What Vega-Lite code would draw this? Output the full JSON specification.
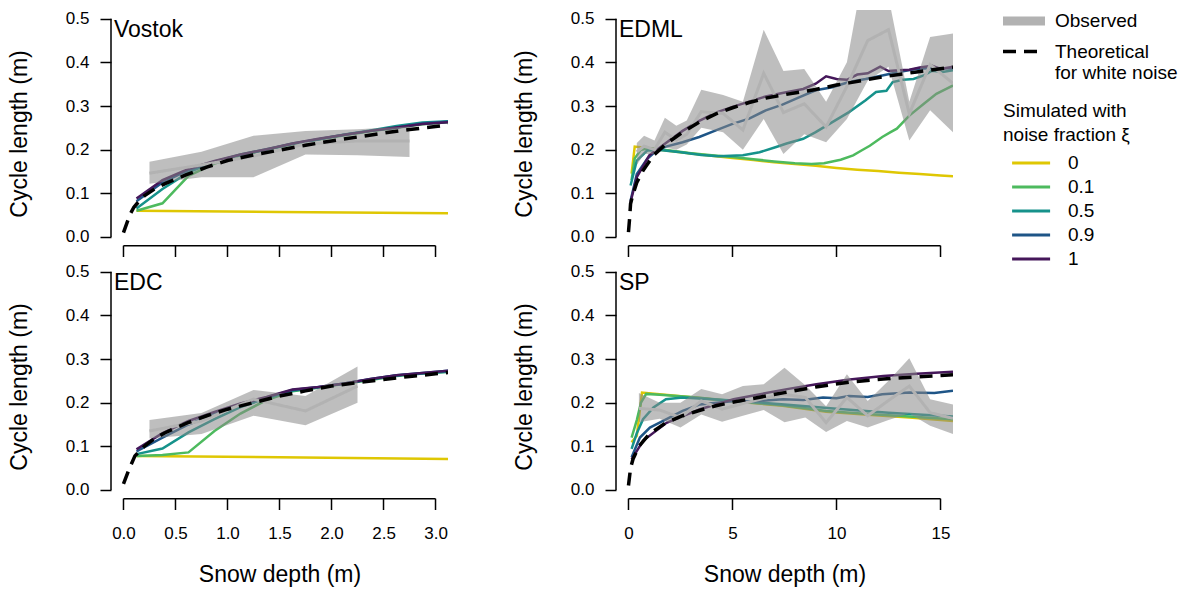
{
  "$schema": "https://vega.github.io/schema/vega-lite/v6.json",
  "background": "white",
  "padding": {"left": 8, "top": 6, "right": 4, "bottom": 4},
  "config": {
    "font": "Liberation Sans",
    "view": {"stroke": null},
    "axis": {"domain": false, "grid": false, "ticks": true, "tickSize": 11, "tickColor": "#000000", "tickWidth": 1.5, "labelColor": "black", "titleColor": "black", "labelFontSize": 17, "titleFontSize": 23, "titleFontWeight": "normal", "labelFlush": false, "labelOverlap": false, "labelFont": "Liberation Sans", "titleFont": "Liberation Sans"},
    "legend": {"padding": 0, "titleFontSize": 19, "titleFontWeight": "normal", "titleColor": "black", "labelFontSize": 19, "labelColor": "black", "labelLimit": 400, "titleLimit": 400, "titleLineHeight": 24, "labelFont": "Liberation Sans", "titleFont": "Liberation Sans"}
  },
  "datasets": {
    "ticks": [
      {"site":"Vostok","depth":0},{"site":"Vostok","depth":0.5},{"site":"Vostok","depth":1},{"site":"Vostok","depth":1.5},{"site":"Vostok","depth":2},{"site":"Vostok","depth":2.5},{"site":"Vostok","depth":3},
      {"site":"EDC","depth":0},{"site":"EDC","depth":0.5},{"site":"EDC","depth":1},{"site":"EDC","depth":1.5},{"site":"EDC","depth":2},{"site":"EDC","depth":2.5},{"site":"EDC","depth":3},
      {"site":"EDML","depth":0},{"site":"EDML","depth":5},{"site":"EDML","depth":10},{"site":"EDML","depth":15},
      {"site":"SP","depth":0},{"site":"SP","depth":5},{"site":"SP","depth":10},{"site":"SP","depth":15}
    ],
    "sim": [
      {"site":"Vostok","xi":"0","depth":0.125,"len":0.06},{"site":"Vostok","xi":"0","depth":1.5,"len":0.057},{"site":"Vostok","xi":"0","depth":3.125,"len":0.054},
      {"site":"Vostok","xi":"0.1","depth":0.125,"len":0.06},{"site":"Vostok","xi":"0.1","depth":0.375,"len":0.077},{"site":"Vostok","xi":"0.1","depth":0.625,"len":0.14},{"site":"Vostok","xi":"0.1","depth":0.875,"len":0.168},{"site":"Vostok","xi":"0.1","depth":1.125,"len":0.186},{"site":"Vostok","xi":"0.1","depth":1.375,"len":0.2},{"site":"Vostok","xi":"0.1","depth":1.625,"len":0.212},{"site":"Vostok","xi":"0.1","depth":1.875,"len":0.223},{"site":"Vostok","xi":"0.1","depth":2.125,"len":0.233},{"site":"Vostok","xi":"0.1","depth":2.375,"len":0.242},{"site":"Vostok","xi":"0.1","depth":2.625,"len":0.25},{"site":"Vostok","xi":"0.1","depth":2.875,"len":0.258},{"site":"Vostok","xi":"0.1","depth":3.125,"len":0.263},
      {"site":"Vostok","xi":"0.5","depth":0.125,"len":0.065},{"site":"Vostok","xi":"0.5","depth":0.375,"len":0.11},{"site":"Vostok","xi":"0.5","depth":0.625,"len":0.148},{"site":"Vostok","xi":"0.5","depth":0.875,"len":0.172},{"site":"Vostok","xi":"0.5","depth":1.125,"len":0.189},{"site":"Vostok","xi":"0.5","depth":1.375,"len":0.201},{"site":"Vostok","xi":"0.5","depth":1.625,"len":0.213},{"site":"Vostok","xi":"0.5","depth":1.875,"len":0.224},{"site":"Vostok","xi":"0.5","depth":2.125,"len":0.235},{"site":"Vostok","xi":"0.5","depth":2.375,"len":0.244},{"site":"Vostok","xi":"0.5","depth":2.625,"len":0.254},{"site":"Vostok","xi":"0.5","depth":2.875,"len":0.262},{"site":"Vostok","xi":"0.5","depth":3.125,"len":0.265},
      {"site":"Vostok","xi":"0.9","depth":0.125,"len":0.082},{"site":"Vostok","xi":"0.9","depth":0.375,"len":0.125},{"site":"Vostok","xi":"0.9","depth":0.625,"len":0.153},{"site":"Vostok","xi":"0.9","depth":0.875,"len":0.173},{"site":"Vostok","xi":"0.9","depth":1.125,"len":0.188},{"site":"Vostok","xi":"0.9","depth":1.375,"len":0.2},{"site":"Vostok","xi":"0.9","depth":1.625,"len":0.214},{"site":"Vostok","xi":"0.9","depth":1.875,"len":0.224},{"site":"Vostok","xi":"0.9","depth":2.125,"len":0.234},{"site":"Vostok","xi":"0.9","depth":2.375,"len":0.243},{"site":"Vostok","xi":"0.9","depth":2.625,"len":0.251},{"site":"Vostok","xi":"0.9","depth":2.875,"len":0.26},{"site":"Vostok","xi":"0.9","depth":3.125,"len":0.264},
      {"site":"Vostok","xi":"1","depth":0.125,"len":0.088},{"site":"Vostok","xi":"1","depth":0.375,"len":0.13},{"site":"Vostok","xi":"1","depth":0.625,"len":0.156},{"site":"Vostok","xi":"1","depth":0.875,"len":0.174},{"site":"Vostok","xi":"1","depth":1.125,"len":0.189},{"site":"Vostok","xi":"1","depth":1.375,"len":0.201},{"site":"Vostok","xi":"1","depth":1.625,"len":0.214},{"site":"Vostok","xi":"1","depth":1.875,"len":0.225},{"site":"Vostok","xi":"1","depth":2.125,"len":0.234},{"site":"Vostok","xi":"1","depth":2.375,"len":0.243},{"site":"Vostok","xi":"1","depth":2.625,"len":0.251},{"site":"Vostok","xi":"1","depth":2.875,"len":0.259},{"site":"Vostok","xi":"1","depth":3.125,"len":0.263},

      {"site":"EDC","xi":"0","depth":0.125,"len":0.078},{"site":"EDC","xi":"0","depth":1.5,"len":0.075},{"site":"EDC","xi":"0","depth":3.125,"len":0.071},
      {"site":"EDC","xi":"0.1","depth":0.125,"len":0.078},{"site":"EDC","xi":"0.1","depth":0.375,"len":0.08},{"site":"EDC","xi":"0.1","depth":0.625,"len":0.086},{"site":"EDC","xi":"0.1","depth":0.875,"len":0.135},{"site":"EDC","xi":"0.1","depth":1.125,"len":0.175},{"site":"EDC","xi":"0.1","depth":1.375,"len":0.206},{"site":"EDC","xi":"0.1","depth":1.625,"len":0.226},{"site":"EDC","xi":"0.1","depth":1.875,"len":0.234},{"site":"EDC","xi":"0.1","depth":2.125,"len":0.243},{"site":"EDC","xi":"0.1","depth":2.375,"len":0.252},{"site":"EDC","xi":"0.1","depth":2.625,"len":0.261},{"site":"EDC","xi":"0.1","depth":2.875,"len":0.267},{"site":"EDC","xi":"0.1","depth":3.125,"len":0.271},
      {"site":"EDC","xi":"0.5","depth":0.125,"len":0.082},{"site":"EDC","xi":"0.5","depth":0.375,"len":0.095},{"site":"EDC","xi":"0.5","depth":0.625,"len":0.132},{"site":"EDC","xi":"0.5","depth":0.875,"len":0.162},{"site":"EDC","xi":"0.5","depth":1.125,"len":0.19},{"site":"EDC","xi":"0.5","depth":1.375,"len":0.21},{"site":"EDC","xi":"0.5","depth":1.625,"len":0.227},{"site":"EDC","xi":"0.5","depth":1.875,"len":0.235},{"site":"EDC","xi":"0.5","depth":2.125,"len":0.244},{"site":"EDC","xi":"0.5","depth":2.375,"len":0.253},{"site":"EDC","xi":"0.5","depth":2.625,"len":0.262},{"site":"EDC","xi":"0.5","depth":2.875,"len":0.267},{"site":"EDC","xi":"0.5","depth":3.125,"len":0.271},
      {"site":"EDC","xi":"0.9","depth":0.125,"len":0.088},{"site":"EDC","xi":"0.9","depth":0.375,"len":0.12},{"site":"EDC","xi":"0.9","depth":0.625,"len":0.15},{"site":"EDC","xi":"0.9","depth":0.875,"len":0.174},{"site":"EDC","xi":"0.9","depth":1.125,"len":0.195},{"site":"EDC","xi":"0.9","depth":1.375,"len":0.212},{"site":"EDC","xi":"0.9","depth":1.625,"len":0.229},{"site":"EDC","xi":"0.9","depth":1.875,"len":0.236},{"site":"EDC","xi":"0.9","depth":2.125,"len":0.244},{"site":"EDC","xi":"0.9","depth":2.375,"len":0.254},{"site":"EDC","xi":"0.9","depth":2.625,"len":0.263},{"site":"EDC","xi":"0.9","depth":2.875,"len":0.268},{"site":"EDC","xi":"0.9","depth":3.125,"len":0.273},
      {"site":"EDC","xi":"1","depth":0.125,"len":0.093},{"site":"EDC","xi":"1","depth":0.375,"len":0.13},{"site":"EDC","xi":"1","depth":0.625,"len":0.158},{"site":"EDC","xi":"1","depth":0.875,"len":0.179},{"site":"EDC","xi":"1","depth":1.125,"len":0.198},{"site":"EDC","xi":"1","depth":1.375,"len":0.213},{"site":"EDC","xi":"1","depth":1.625,"len":0.23},{"site":"EDC","xi":"1","depth":1.875,"len":0.236},{"site":"EDC","xi":"1","depth":2.125,"len":0.244},{"site":"EDC","xi":"1","depth":2.375,"len":0.254},{"site":"EDC","xi":"1","depth":2.625,"len":0.263},{"site":"EDC","xi":"1","depth":2.875,"len":0.268},{"site":"EDC","xi":"1","depth":3.125,"len":0.273},

      {"site":"EDML","xi":"0","depth":0.15,"len":0.145},{"site":"EDML","xi":"0","depth":0.3,"len":0.207},{"site":"EDML","xi":"0","depth":1,"len":0.203},{"site":"EDML","xi":"0","depth":2,"len":0.197},{"site":"EDML","xi":"0","depth":3,"len":0.191},{"site":"EDML","xi":"0","depth":4,"len":0.186},{"site":"EDML","xi":"0","depth":5,"len":0.181},{"site":"EDML","xi":"0","depth":6,"len":0.176},{"site":"EDML","xi":"0","depth":7,"len":0.171},{"site":"EDML","xi":"0","depth":8,"len":0.167},{"site":"EDML","xi":"0","depth":9,"len":0.163},{"site":"EDML","xi":"0","depth":10,"len":0.158},{"site":"EDML","xi":"0","depth":11,"len":0.154},{"site":"EDML","xi":"0","depth":12,"len":0.151},{"site":"EDML","xi":"0","depth":13,"len":0.147},{"site":"EDML","xi":"0","depth":14,"len":0.144},{"site":"EDML","xi":"0","depth":15,"len":0.141},{"site":"EDML","xi":"0","depth":15.6,"len":0.139},
      {"site":"EDML","xi":"0.1","depth":0.15,"len":0.13},{"site":"EDML","xi":"0.1","depth":0.3,"len":0.18},{"site":"EDML","xi":"0.1","depth":0.6,"len":0.2},{"site":"EDML","xi":"0.1","depth":1,"len":0.203},{"site":"EDML","xi":"0.1","depth":2,"len":0.198},{"site":"EDML","xi":"0.1","depth":3,"len":0.192},{"site":"EDML","xi":"0.1","depth":4,"len":0.187},{"site":"EDML","xi":"0.1","depth":5,"len":0.183},{"site":"EDML","xi":"0.1","depth":6,"len":0.178},{"site":"EDML","xi":"0.1","depth":7,"len":0.173},{"site":"EDML","xi":"0.1","depth":8,"len":0.169},{"site":"EDML","xi":"0.1","depth":8.8,"len":0.167},{"site":"EDML","xi":"0.1","depth":9.4,"len":0.169},{"site":"EDML","xi":"0.1","depth":10.2,"len":0.177},{"site":"EDML","xi":"0.1","depth":10.8,"len":0.187},{"site":"EDML","xi":"0.1","depth":11.2,"len":0.198},{"site":"EDML","xi":"0.1","depth":11.6,"len":0.209},{"site":"EDML","xi":"0.1","depth":12.2,"len":0.229},{"site":"EDML","xi":"0.1","depth":12.6,"len":0.24},{"site":"EDML","xi":"0.1","depth":12.9,"len":0.248},{"site":"EDML","xi":"0.1","depth":13.5,"len":0.278},{"site":"EDML","xi":"0.1","depth":14.2,"len":0.305},{"site":"EDML","xi":"0.1","depth":14.8,"len":0.328},{"site":"EDML","xi":"0.1","depth":15.3,"len":0.34},{"site":"EDML","xi":"0.1","depth":15.6,"len":0.347},
      {"site":"EDML","xi":"0.5","depth":0.1,"len":0.118},{"site":"EDML","xi":"0.5","depth":0.4,"len":0.175},{"site":"EDML","xi":"0.5","depth":0.9,"len":0.198},{"site":"EDML","xi":"0.5","depth":1.5,"len":0.199},{"site":"EDML","xi":"0.5","depth":2.5,"len":0.194},{"site":"EDML","xi":"0.5","depth":3.5,"len":0.188},{"site":"EDML","xi":"0.5","depth":4.3,"len":0.185},{"site":"EDML","xi":"0.5","depth":5.5,"len":0.187},{"site":"EDML","xi":"0.5","depth":6.3,"len":0.194},{"site":"EDML","xi":"0.5","depth":7.1,"len":0.206},{"site":"EDML","xi":"0.5","depth":7.6,"len":0.214},{"site":"EDML","xi":"0.5","depth":8.4,"len":0.225},{"site":"EDML","xi":"0.5","depth":9,"len":0.24},{"site":"EDML","xi":"0.5","depth":9.8,"len":0.263},{"site":"EDML","xi":"0.5","depth":10.6,"len":0.286},{"site":"EDML","xi":"0.5","depth":11.4,"len":0.313},{"site":"EDML","xi":"0.5","depth":11.9,"len":0.332},{"site":"EDML","xi":"0.5","depth":12.4,"len":0.335},{"site":"EDML","xi":"0.5","depth":12.7,"len":0.355},{"site":"EDML","xi":"0.5","depth":13.2,"len":0.36},{"site":"EDML","xi":"0.5","depth":13.7,"len":0.362},{"site":"EDML","xi":"0.5","depth":14.2,"len":0.37},{"site":"EDML","xi":"0.5","depth":14.6,"len":0.381},{"site":"EDML","xi":"0.5","depth":15.1,"len":0.378},{"site":"EDML","xi":"0.5","depth":15.6,"len":0.382},
      {"site":"EDML","xi":"0.9","depth":0.1,"len":0.083},{"site":"EDML","xi":"0.9","depth":0.4,"len":0.144},{"site":"EDML","xi":"0.9","depth":0.9,"len":0.179},{"site":"EDML","xi":"0.9","depth":1.35,"len":0.198},{"site":"EDML","xi":"0.9","depth":1.8,"len":0.207},{"site":"EDML","xi":"0.9","depth":2.6,"len":0.217},{"site":"EDML","xi":"0.9","depth":3.4,"len":0.229},{"site":"EDML","xi":"0.9","depth":4.2,"len":0.244},{"site":"EDML","xi":"0.9","depth":5,"len":0.259},{"site":"EDML","xi":"0.9","depth":5.8,"len":0.271},{"site":"EDML","xi":"0.9","depth":6.6,"len":0.29},{"site":"EDML","xi":"0.9","depth":7.4,"len":0.303},{"site":"EDML","xi":"0.9","depth":8.2,"len":0.32},{"site":"EDML","xi":"0.9","depth":9,"len":0.336},{"site":"EDML","xi":"0.9","depth":9.8,"len":0.343},{"site":"EDML","xi":"0.9","depth":10.6,"len":0.355},{"site":"EDML","xi":"0.9","depth":11.4,"len":0.362},{"site":"EDML","xi":"0.9","depth":12.2,"len":0.37},{"site":"EDML","xi":"0.9","depth":13,"len":0.378},{"site":"EDML","xi":"0.9","depth":13.8,"len":0.385},{"site":"EDML","xi":"0.9","depth":14.6,"len":0.387},{"site":"EDML","xi":"0.9","depth":15.6,"len":0.386},
      {"site":"EDML","xi":"1","depth":0.1,"len":0.08},{"site":"EDML","xi":"1","depth":0.4,"len":0.137},{"site":"EDML","xi":"1","depth":1,"len":0.187},{"site":"EDML","xi":"1","depth":1.8,"len":0.215},{"site":"EDML","xi":"1","depth":2.6,"len":0.243},{"site":"EDML","xi":"1","depth":3.4,"len":0.266},{"site":"EDML","xi":"1","depth":4.2,"len":0.285},{"site":"EDML","xi":"1","depth":5,"len":0.298},{"site":"EDML","xi":"1","depth":5.8,"len":0.31},{"site":"EDML","xi":"1","depth":6.6,"len":0.322},{"site":"EDML","xi":"1","depth":7.4,"len":0.33},{"site":"EDML","xi":"1","depth":8.4,"len":0.339},{"site":"EDML","xi":"1","depth":9,"len":0.351},{"site":"EDML","xi":"1","depth":9.5,"len":0.368},{"site":"EDML","xi":"1","depth":10,"len":0.362},{"site":"EDML","xi":"1","depth":10.5,"len":0.36},{"site":"EDML","xi":"1","depth":11,"len":0.372},{"site":"EDML","xi":"1","depth":11.5,"len":0.375},{"site":"EDML","xi":"1","depth":12.1,"len":0.39},{"site":"EDML","xi":"1","depth":12.5,"len":0.38},{"site":"EDML","xi":"1","depth":13,"len":0.382},{"site":"EDML","xi":"1","depth":13.5,"len":0.383},{"site":"EDML","xi":"1","depth":14,"len":0.388},{"site":"EDML","xi":"1","depth":14.6,"len":0.392},{"site":"EDML","xi":"1","depth":15,"len":0.385},{"site":"EDML","xi":"1","depth":15.6,"len":0.39},

      {"site":"SP","xi":"0","depth":0.15,"len":0.109},{"site":"SP","xi":"0","depth":0.4,"len":0.124},{"site":"SP","xi":"0","depth":0.65,"len":0.223},{"site":"SP","xi":"0","depth":3.3,"len":0.211},{"site":"SP","xi":"0","depth":5,"len":0.203},{"site":"SP","xi":"0","depth":7.4,"len":0.193},{"site":"SP","xi":"0","depth":9.5,"len":0.179},{"site":"SP","xi":"0","depth":11.5,"len":0.172},{"site":"SP","xi":"0","depth":13.5,"len":0.166},{"site":"SP","xi":"0","depth":15.6,"len":0.158},
      {"site":"SP","xi":"0.1","depth":0.15,"len":0.12},{"site":"SP","xi":"0.1","depth":0.4,"len":0.16},{"site":"SP","xi":"0.1","depth":0.6,"len":0.2},{"site":"SP","xi":"0.1","depth":0.85,"len":0.22},{"site":"SP","xi":"0.1","depth":1.5,"len":0.218},{"site":"SP","xi":"0.1","depth":3.3,"len":0.212},{"site":"SP","xi":"0.1","depth":5,"len":0.204},{"site":"SP","xi":"0.1","depth":7.4,"len":0.194},{"site":"SP","xi":"0.1","depth":9.5,"len":0.181},{"site":"SP","xi":"0.1","depth":11.5,"len":0.174},{"site":"SP","xi":"0.1","depth":13.5,"len":0.168},{"site":"SP","xi":"0.1","depth":15.6,"len":0.162},
      {"site":"SP","xi":"0.5","depth":0.15,"len":0.094},{"site":"SP","xi":"0.5","depth":0.4,"len":0.13},{"site":"SP","xi":"0.5","depth":0.7,"len":0.162},{"site":"SP","xi":"0.5","depth":1.2,"len":0.189},{"site":"SP","xi":"0.5","depth":1.8,"len":0.208},{"site":"SP","xi":"0.5","depth":2.6,"len":0.212},{"site":"SP","xi":"0.5","depth":5,"len":0.205},{"site":"SP","xi":"0.5","depth":7.5,"len":0.196},{"site":"SP","xi":"0.5","depth":10,"len":0.186},{"site":"SP","xi":"0.5","depth":12.5,"len":0.177},{"site":"SP","xi":"0.5","depth":15.6,"len":0.168},
      {"site":"SP","xi":"0.9","depth":0.15,"len":0.075},{"site":"SP","xi":"0.9","depth":0.55,"len":0.12},{"site":"SP","xi":"0.9","depth":1.03,"len":0.143},{"site":"SP","xi":"0.9","depth":1.83,"len":0.162},{"site":"SP","xi":"0.9","depth":2.6,"len":0.181},{"site":"SP","xi":"0.9","depth":3.44,"len":0.196},{"site":"SP","xi":"0.9","depth":4.24,"len":0.2},{"site":"SP","xi":"0.9","depth":5,"len":0.203},{"site":"SP","xi":"0.9","depth":6,"len":0.203},{"site":"SP","xi":"0.9","depth":7.43,"len":0.208},{"site":"SP","xi":"0.9","depth":8.4,"len":0.206},{"site":"SP","xi":"0.9","depth":9.35,"len":0.212},{"site":"SP","xi":"0.9","depth":10,"len":0.21},{"site":"SP","xi":"0.9","depth":10.6,"len":0.215},{"site":"SP","xi":"0.9","depth":11.5,"len":0.213},{"site":"SP","xi":"0.9","depth":12.2,"len":0.219},{"site":"SP","xi":"0.9","depth":13.5,"len":0.223},{"site":"SP","xi":"0.9","depth":14.7,"len":0.222},{"site":"SP","xi":"0.9","depth":15.6,"len":0.227},
      {"site":"SP","xi":"1","depth":0.15,"len":0.07},{"site":"SP","xi":"1","depth":0.71,"len":0.113},{"site":"SP","xi":"1","depth":1.83,"len":0.154},{"site":"SP","xi":"1","depth":3.44,"len":0.185},{"site":"SP","xi":"1","depth":5.05,"len":0.208},{"site":"SP","xi":"1","depth":7.62,"len":0.231},{"site":"SP","xi":"1","depth":9.03,"len":0.242},{"site":"SP","xi":"1","depth":10.64,"len":0.253},{"site":"SP","xi":"1","depth":12.25,"len":0.261},{"site":"SP","xi":"1","depth":13.85,"len":0.266},{"site":"SP","xi":"1","depth":15.6,"len":0.271}
    ],
    "obs": [
      {"site":"Vostok","kind":"Observed","depth":0.25,"len":0.146,"lo":0.122,"hi":0.172},{"site":"Vostok","kind":"Observed","depth":0.75,"len":0.165,"lo":0.137,"hi":0.195},{"site":"Vostok","kind":"Observed","depth":1.25,"len":0.185,"lo":0.137,"hi":0.232},{"site":"Vostok","kind":"Observed","depth":1.75,"len":0.213,"lo":0.189,"hi":0.243},{"site":"Vostok","kind":"Observed","depth":2.25,"len":0.22,"lo":0.187,"hi":0.247},{"site":"Vostok","kind":"Observed","depth":2.75,"len":0.22,"lo":0.183,"hi":0.253},
      {"site":"EDC","kind":"Observed","depth":0.25,"len":0.135,"lo":0.118,"hi":0.16},{"site":"EDC","kind":"Observed","depth":0.75,"len":0.158,"lo":0.128,"hi":0.176},{"site":"EDC","kind":"Observed","depth":1.25,"len":0.208,"lo":0.17,"hi":0.229},{"site":"EDC","kind":"Observed","depth":1.75,"len":0.181,"lo":0.148,"hi":0.215},{"site":"EDC","kind":"Observed","depth":2.25,"len":0.238,"lo":0.2,"hi":0.283},
      {"site":"EDML","kind":"Observed","depth":0.4,"len":0.195,"lo":0.165,"hi":0.215},{"site":"EDML","kind":"Observed","depth":0.75,"len":0.208,"lo":0.19,"hi":0.232},{"site":"EDML","kind":"Observed","depth":1.25,"len":0.2,"lo":0.19,"hi":0.221},{"site":"EDML","kind":"Observed","depth":1.75,"len":0.24,"lo":0.205,"hi":0.273},{"site":"EDML","kind":"Observed","depth":2.3,"len":0.222,"lo":0.2,"hi":0.255},{"site":"EDML","kind":"Observed","depth":2.8,"len":0.235,"lo":0.212,"hi":0.267},{"site":"EDML","kind":"Observed","depth":3.5,"len":0.287,"lo":0.25,"hi":0.337},{"site":"EDML","kind":"Observed","depth":4.55,"len":0.283,"lo":0.24,"hi":0.325},{"site":"EDML","kind":"Observed","depth":5.5,"len":0.245,"lo":0.2,"hi":0.31},{"site":"EDML","kind":"Observed","depth":6.5,"len":0.375,"lo":0.27,"hi":0.475},{"site":"EDML","kind":"Observed","depth":7.45,"len":0.285,"lo":0.19,"hi":0.38},{"site":"EDML","kind":"Observed","depth":8.45,"len":0.305,"lo":0.235,"hi":0.385},{"site":"EDML","kind":"Observed","depth":9.5,"len":0.252,"lo":0.217,"hi":0.31},{"site":"EDML","kind":"Observed","depth":10.5,"len":0.345,"lo":0.27,"hi":0.4},{"site":"EDML","kind":"Observed","depth":11.5,"len":0.45,"lo":0.358,"hi":0.66},{"site":"EDML","kind":"Observed","depth":12.5,"len":0.475,"lo":0.39,"hi":0.55},{"site":"EDML","kind":"Observed","depth":13.5,"len":0.282,"lo":0.221,"hi":0.31},{"site":"EDML","kind":"Observed","depth":14.5,"len":0.395,"lo":0.29,"hi":0.458},{"site":"EDML","kind":"Observed","depth":15.6,"len":0.352,"lo":0.24,"hi":0.466},
      {"site":"SP","kind":"Observed","depth":0.5,"len":0.187,"lo":0.155,"hi":0.222},{"site":"SP","kind":"Observed","depth":1.5,"len":0.183,"lo":0.163,"hi":0.2},{"site":"SP","kind":"Observed","depth":2.5,"len":0.166,"lo":0.143,"hi":0.2},{"site":"SP","kind":"Observed","depth":3.5,"len":0.204,"lo":0.173,"hi":0.231},{"site":"SP","kind":"Observed","depth":4.5,"len":0.185,"lo":0.156,"hi":0.219},{"site":"SP","kind":"Observed","depth":5.5,"len":0.198,"lo":0.17,"hi":0.238},{"site":"SP","kind":"Observed","depth":6.5,"len":0.21,"lo":0.183,"hi":0.242},{"site":"SP","kind":"Observed","depth":7.5,"len":0.219,"lo":0.155,"hi":0.28},{"site":"SP","kind":"Observed","depth":8.5,"len":0.212,"lo":0.166,"hi":0.24},{"site":"SP","kind":"Observed","depth":9.5,"len":0.154,"lo":0.133,"hi":0.192},{"site":"SP","kind":"Observed","depth":10.5,"len":0.212,"lo":0.158,"hi":0.265},{"site":"SP","kind":"Observed","depth":11.5,"len":0.17,"lo":0.143,"hi":0.204},{"site":"SP","kind":"Observed","depth":12.5,"len":0.205,"lo":0.16,"hi":0.25},{"site":"SP","kind":"Observed","depth":13.5,"len":0.238,"lo":0.175,"hi":0.302},{"site":"SP","kind":"Observed","depth":14.5,"len":0.177,"lo":0.147,"hi":0.208},{"site":"SP","kind":"Observed","depth":15.6,"len":0.164,"lo":0.128,"hi":0.196}
    ],
    "theo": [
      {"site":"Vostok","kind":"Theoretical","depth":0,"len":0.01},{"site":"Vostok","kind":"Theoretical","depth":0.03,"len":0.03},{"site":"Vostok","kind":"Theoretical","depth":0.06,"len":0.05},{"site":"Vostok","kind":"Theoretical","depth":0.1,"len":0.068},{"site":"Vostok","kind":"Theoretical","depth":0.15,"len":0.082},{"site":"Vostok","kind":"Theoretical","depth":0.2,"len":0.094},{"site":"Vostok","kind":"Theoretical","depth":0.3,"len":0.11},{"site":"Vostok","kind":"Theoretical","depth":0.4,"len":0.122},{"site":"Vostok","kind":"Theoretical","depth":0.5,"len":0.132},{"site":"Vostok","kind":"Theoretical","depth":0.6,"len":0.142},{"site":"Vostok","kind":"Theoretical","depth":0.8,"len":0.16},{"site":"Vostok","kind":"Theoretical","depth":1,"len":0.175},{"site":"Vostok","kind":"Theoretical","depth":1.25,"len":0.188},{"site":"Vostok","kind":"Theoretical","depth":1.5,"len":0.199},{"site":"Vostok","kind":"Theoretical","depth":1.75,"len":0.21},{"site":"Vostok","kind":"Theoretical","depth":2,"len":0.22},{"site":"Vostok","kind":"Theoretical","depth":2.25,"len":0.229},{"site":"Vostok","kind":"Theoretical","depth":2.5,"len":0.238},{"site":"Vostok","kind":"Theoretical","depth":2.75,"len":0.246},{"site":"Vostok","kind":"Theoretical","depth":3,"len":0.253},{"site":"Vostok","kind":"Theoretical","depth":3.12,"len":0.257},
      {"site":"EDC","kind":"Theoretical","depth":0,"len":0.014},{"site":"EDC","kind":"Theoretical","depth":0.05,"len":0.045},{"site":"EDC","kind":"Theoretical","depth":0.11,"len":0.078},{"site":"EDC","kind":"Theoretical","depth":0.2,"len":0.1},{"site":"EDC","kind":"Theoretical","depth":0.3,"len":0.118},{"site":"EDC","kind":"Theoretical","depth":0.4,"len":0.131},{"site":"EDC","kind":"Theoretical","depth":0.5,"len":0.142},{"site":"EDC","kind":"Theoretical","depth":0.62,"len":0.154},{"site":"EDC","kind":"Theoretical","depth":0.8,"len":0.17},{"site":"EDC","kind":"Theoretical","depth":1,"len":0.185},{"site":"EDC","kind":"Theoretical","depth":1.25,"len":0.2},{"site":"EDC","kind":"Theoretical","depth":1.5,"len":0.215},{"site":"EDC","kind":"Theoretical","depth":1.75,"len":0.227},{"site":"EDC","kind":"Theoretical","depth":2,"len":0.238},{"site":"EDC","kind":"Theoretical","depth":2.25,"len":0.246},{"site":"EDC","kind":"Theoretical","depth":2.5,"len":0.253},{"site":"EDC","kind":"Theoretical","depth":2.75,"len":0.26},{"site":"EDC","kind":"Theoretical","depth":3,"len":0.266},{"site":"EDC","kind":"Theoretical","depth":3.12,"len":0.269},
      {"site":"EDML","kind":"Theoretical","depth":0,"len":0.011},{"site":"EDML","kind":"Theoretical","depth":0.05,"len":0.04},{"site":"EDML","kind":"Theoretical","depth":0.1,"len":0.076},{"site":"EDML","kind":"Theoretical","depth":0.2,"len":0.095},{"site":"EDML","kind":"Theoretical","depth":0.4,"len":0.125},{"site":"EDML","kind":"Theoretical","depth":0.7,"len":0.152},{"site":"EDML","kind":"Theoretical","depth":1.2,"len":0.187},{"site":"EDML","kind":"Theoretical","depth":1.8,"len":0.213},{"site":"EDML","kind":"Theoretical","depth":2.6,"len":0.24},{"site":"EDML","kind":"Theoretical","depth":3.4,"len":0.263},{"site":"EDML","kind":"Theoretical","depth":4.2,"len":0.282},{"site":"EDML","kind":"Theoretical","depth":5,"len":0.296},{"site":"EDML","kind":"Theoretical","depth":5.8,"len":0.308},{"site":"EDML","kind":"Theoretical","depth":6.6,"len":0.318},{"site":"EDML","kind":"Theoretical","depth":7.5,"len":0.326},{"site":"EDML","kind":"Theoretical","depth":8.4,"len":0.333},{"site":"EDML","kind":"Theoretical","depth":9,"len":0.338},{"site":"EDML","kind":"Theoretical","depth":10,"len":0.348},{"site":"EDML","kind":"Theoretical","depth":10.6,"len":0.353},{"site":"EDML","kind":"Theoretical","depth":12.25,"len":0.367},{"site":"EDML","kind":"Theoretical","depth":13.85,"len":0.378},{"site":"EDML","kind":"Theoretical","depth":15.6,"len":0.389},
      {"site":"SP","kind":"Theoretical","depth":0,"len":0.01},{"site":"SP","kind":"Theoretical","depth":0.1,"len":0.05},{"site":"SP","kind":"Theoretical","depth":0.22,"len":0.071},{"site":"SP","kind":"Theoretical","depth":0.5,"len":0.1},{"site":"SP","kind":"Theoretical","depth":1,"len":0.128},{"site":"SP","kind":"Theoretical","depth":1.8,"len":0.154},{"site":"SP","kind":"Theoretical","depth":2.6,"len":0.17},{"site":"SP","kind":"Theoretical","depth":3.4,"len":0.182},{"site":"SP","kind":"Theoretical","depth":4.2,"len":0.193},{"site":"SP","kind":"Theoretical","depth":5,"len":0.201},{"site":"SP","kind":"Theoretical","depth":5.8,"len":0.208},{"site":"SP","kind":"Theoretical","depth":7.5,"len":0.223},{"site":"SP","kind":"Theoretical","depth":9,"len":0.236},{"site":"SP","kind":"Theoretical","depth":10.6,"len":0.247},{"site":"SP","kind":"Theoretical","depth":12.25,"len":0.254},{"site":"SP","kind":"Theoretical","depth":13.85,"len":0.259},{"site":"SP","kind":"Theoretical","depth":15.6,"len":0.264}
    ]
  },
  "columns": 2,
  "spacing": {"row": 4, "column": 65},
  "concat": [
    {
      "width": 337, "height": 247,
      "layer": [
        {"data": {"name": "sim"}, "transform": [{"filter": "datum.site === 'Vostok'"}], "mark": {"type": "line", "strokeWidth": 2.5, "clip": true},
         "encoding": {
           "x": {"field": "depth", "type": "quantitative", "scale": {"domain": [-0.12, 3.12], "nice": false, "zero": false}, "axis": null},
           "y": {"field": "len", "type": "quantitative", "scale": {"domain": [-0.046, 0.52], "nice": false, "zero": false}, "axis": {"values": [0, 0.1, 0.2, 0.3, 0.4, 0.5], "format": ".1f", "title": "Cycle length (m)", "labelPadding": 11, "titlePadding": 34}},
           "color": {"field": "xi", "type": "nominal", "scale": {"domain": ["0", "0.1", "0.5", "0.9", "1"], "range": ["#DFC703", "#4DBA5E", "#16928B", "#1E5587", "#45175A"]},
             "legend": {"orient": "none", "legendX": 892, "legendY": 92, "title": ["Simulated with", "noise fraction ξ"], "symbolType": "M-0.2,0H3.8", "symbolSize": 361, "symbolStrokeWidth": 3, "labelOffset": 43, "rowPadding": 3, "titlePadding": 7}}}},
        {"data": {"name": "obs"}, "transform": [{"filter": "datum.site === 'Vostok'"}], "mark": {"type": "area", "color": "#888888", "opacity": 0.55, "clip": true},
         "encoding": {"x": {"field": "depth", "type": "quantitative"}, "y": {"field": "lo", "type": "quantitative"}, "y2": {"field": "hi"}}},
        {"data": {"name": "obs"}, "transform": [{"filter": "datum.site === 'Vostok'"}], "mark": {"type": "line", "strokeWidth": 3, "clip": true},
         "encoding": {"x": {"field": "depth", "type": "quantitative"}, "y": {"field": "len", "type": "quantitative"},
           "stroke": {"field": "kind", "type": "nominal", "scale": {"domain": ["Observed", "Theoretical"], "range": ["#b2b2b2", "#000000"]},
             "legend": {"orient": "none", "legendX": 898, "legendY": -4, "title": null, "symbolType": "M-2,0H2", "symbolSize": 441, "labelOffset": 16, "rowPadding": -6,
               "labelExpr": "datum.label === 'Theoretical' ? ['Theoretical', 'for white noise'] : datum.label"}},
           "strokeDash": {"field": "kind", "type": "nominal", "scale": {"domain": ["Observed", "Theoretical"], "range": [[1, 0], [13, 8]]},
             "legend": {"orient": "none", "legendX": 898, "legendY": -4, "title": null, "symbolType": "M-2,0H2", "symbolSize": 441, "labelOffset": 16, "rowPadding": -6,
               "labelExpr": "datum.label === 'Theoretical' ? ['Theoretical', 'for white noise'] : datum.label"}}}},
        {"data": {"name": "theo"}, "transform": [{"filter": "datum.site === 'Vostok'"}], "mark": {"type": "line", "clip": true},
         "encoding": {"x": {"field": "depth", "type": "quantitative"}, "y": {"field": "len", "type": "quantitative"},
           "stroke": {"field": "kind", "type": "nominal", "scale": {"domain": ["Observed", "Theoretical"], "range": ["#b2b2b2", "#000000"]}},
           "strokeDash": {"field": "kind", "type": "nominal", "scale": {"domain": ["Observed", "Theoretical"], "range": [[1, 0], [13, 8]]}},
           "strokeWidth": {"field": "kind", "type": "nominal", "scale": {"type": "ordinal", "domain": ["Observed", "Theoretical"], "range": [9, 3.5]},
             "legend": {"orient": "none", "legendX": 898, "legendY": -4, "title": null, "symbolType": "M-2,0H2", "symbolSize": 441, "labelOffset": 16, "rowPadding": -6,
               "labelExpr": "datum.label === 'Theoretical' ? ['Theoretical', 'for white noise'] : datum.label"}}}},
        {"data": {"name": "ticks"}, "transform": [{"filter": "datum.site === 'Vostok'"}], "mark": {"type": "rule", "color": "black", "strokeWidth": 1.5},
         "encoding": {"x": {"field": "depth", "type": "quantitative"}, "y": {"datum": -0.02, "type": "quantitative"}, "y2": {"datum": -0.046}}},
        {"data": {"values": [{"site": "Vostok"}]}, "mark": {"type": "rule", "color": "black", "strokeWidth": 1.5}, "encoding": {"x": {"datum": -0.12, "type": "quantitative"}, "y": {"datum": 0, "type": "quantitative"}, "y2": {"datum": 0.5}}},
        {"data": {"values": [{"site": "Vostok"}]}, "mark": {"type": "rule", "color": "black", "strokeWidth": 1.5}, "encoding": {"y": {"datum": -0.02, "type": "quantitative"}, "x": {"datum": 0, "type": "quantitative"}, "x2": {"datum": 3}}},
        {"data": {"values": [{"site": "Vostok"}]}, "mark": {"type": "text", "align": "left", "baseline": "middle", "dx": 3, "fontSize": 23, "color": "black"}, "encoding": {"x": {"datum": -0.12, "type": "quantitative"}, "y": {"datum": 0.475, "type": "quantitative"}, "text": {"field": "site"}}}
      ]
    },
    {
      "width": 337, "height": 247,
      "layer": [
        {"data": {"name": "sim"}, "transform": [{"filter": "datum.site === 'EDML'"}], "mark": {"type": "line", "strokeWidth": 2.5, "clip": true},
         "encoding": {
           "x": {"field": "depth", "type": "quantitative", "scale": {"domain": [-0.6, 15.6], "nice": false, "zero": false}, "axis": null},
           "y": {"field": "len", "type": "quantitative", "scale": {"domain": [-0.046, 0.52], "nice": false, "zero": false}, "axis": {"values": [0, 0.1, 0.2, 0.3, 0.4, 0.5], "format": ".1f", "title": "Cycle length (m)", "labelPadding": 11, "titlePadding": 34}},
           "color": {"field": "xi", "type": "nominal", "scale": {"domain": ["0", "0.1", "0.5", "0.9", "1"], "range": ["#DFC703", "#4DBA5E", "#16928B", "#1E5587", "#45175A"]}}}},
        {"data": {"name": "obs"}, "transform": [{"filter": "datum.site === 'EDML'"}], "mark": {"type": "area", "color": "#888888", "opacity": 0.55, "clip": true},
         "encoding": {"x": {"field": "depth", "type": "quantitative"}, "y": {"field": "lo", "type": "quantitative"}, "y2": {"field": "hi"}}},
        {"data": {"name": "obs"}, "transform": [{"filter": "datum.site === 'EDML'"}], "mark": {"type": "line", "strokeWidth": 3, "clip": true},
         "encoding": {"x": {"field": "depth", "type": "quantitative"}, "y": {"field": "len", "type": "quantitative"},
           "stroke": {"field": "kind", "type": "nominal", "scale": {"domain": ["Observed", "Theoretical"], "range": ["#b2b2b2", "#000000"]}},
           "strokeDash": {"field": "kind", "type": "nominal", "scale": {"domain": ["Observed", "Theoretical"], "range": [[1, 0], [13, 8]]}}}},
        {"data": {"name": "theo"}, "transform": [{"filter": "datum.site === 'EDML'"}], "mark": {"type": "line", "clip": true},
         "encoding": {"x": {"field": "depth", "type": "quantitative"}, "y": {"field": "len", "type": "quantitative"},
           "stroke": {"field": "kind", "type": "nominal", "scale": {"domain": ["Observed", "Theoretical"], "range": ["#b2b2b2", "#000000"]}},
           "strokeDash": {"field": "kind", "type": "nominal", "scale": {"domain": ["Observed", "Theoretical"], "range": [[1, 0], [13, 8]]}},
           "strokeWidth": {"field": "kind", "type": "nominal", "scale": {"type": "ordinal", "domain": ["Observed", "Theoretical"], "range": [9, 3.5]}}}},
        {"data": {"name": "ticks"}, "transform": [{"filter": "datum.site === 'EDML'"}], "mark": {"type": "rule", "color": "black", "strokeWidth": 1.5},
         "encoding": {"x": {"field": "depth", "type": "quantitative"}, "y": {"datum": -0.02, "type": "quantitative"}, "y2": {"datum": -0.046}}},
        {"data": {"values": [{"site": "EDML"}]}, "mark": {"type": "rule", "color": "black", "strokeWidth": 1.5}, "encoding": {"x": {"datum": -0.6, "type": "quantitative"}, "y": {"datum": 0, "type": "quantitative"}, "y2": {"datum": 0.5}}},
        {"data": {"values": [{"site": "EDML"}]}, "mark": {"type": "rule", "color": "black", "strokeWidth": 1.5}, "encoding": {"y": {"datum": -0.02, "type": "quantitative"}, "x": {"datum": 0, "type": "quantitative"}, "x2": {"datum": 15}}},
        {"data": {"values": [{"site": "EDML"}]}, "mark": {"type": "text", "align": "left", "baseline": "middle", "dx": 3, "fontSize": 23, "color": "black"}, "encoding": {"x": {"datum": -0.6, "type": "quantitative"}, "y": {"datum": 0.475, "type": "quantitative"}, "text": {"field": "site"}}}
      ]
    },
    {
      "width": 337, "height": 247,
      "layer": [
        {"data": {"name": "sim"}, "transform": [{"filter": "datum.site === 'EDC'"}], "mark": {"type": "line", "strokeWidth": 2.5, "clip": true},
         "encoding": {
           "x": {"field": "depth", "type": "quantitative", "scale": {"domain": [-0.12, 3.12], "nice": false, "zero": false}, "axis": {"values": [0, 0.5, 1, 1.5, 2, 2.5, 3], "format": ".1f", "title": "Snow depth (m)", "ticks": false, "tickSize": 0, "domain": false, "labelPadding": 15, "titlePadding": 22}},
           "y": {"field": "len", "type": "quantitative", "scale": {"domain": [-0.046, 0.52], "nice": false, "zero": false}, "axis": {"values": [0, 0.1, 0.2, 0.3, 0.4, 0.5], "format": ".1f", "title": "Cycle length (m)", "labelPadding": 11, "titlePadding": 34}},
           "color": {"field": "xi", "type": "nominal", "scale": {"domain": ["0", "0.1", "0.5", "0.9", "1"], "range": ["#DFC703", "#4DBA5E", "#16928B", "#1E5587", "#45175A"]}}}},
        {"data": {"name": "obs"}, "transform": [{"filter": "datum.site === 'EDC'"}], "mark": {"type": "area", "color": "#888888", "opacity": 0.55, "clip": true},
         "encoding": {"x": {"field": "depth", "type": "quantitative"}, "y": {"field": "lo", "type": "quantitative"}, "y2": {"field": "hi"}}},
        {"data": {"name": "obs"}, "transform": [{"filter": "datum.site === 'EDC'"}], "mark": {"type": "line", "strokeWidth": 3, "clip": true},
         "encoding": {"x": {"field": "depth", "type": "quantitative"}, "y": {"field": "len", "type": "quantitative"},
           "stroke": {"field": "kind", "type": "nominal", "scale": {"domain": ["Observed", "Theoretical"], "range": ["#b2b2b2", "#000000"]}},
           "strokeDash": {"field": "kind", "type": "nominal", "scale": {"domain": ["Observed", "Theoretical"], "range": [[1, 0], [13, 8]]}}}},
        {"data": {"name": "theo"}, "transform": [{"filter": "datum.site === 'EDC'"}], "mark": {"type": "line", "clip": true},
         "encoding": {"x": {"field": "depth", "type": "quantitative"}, "y": {"field": "len", "type": "quantitative"},
           "stroke": {"field": "kind", "type": "nominal", "scale": {"domain": ["Observed", "Theoretical"], "range": ["#b2b2b2", "#000000"]}},
           "strokeDash": {"field": "kind", "type": "nominal", "scale": {"domain": ["Observed", "Theoretical"], "range": [[1, 0], [13, 8]]}},
           "strokeWidth": {"field": "kind", "type": "nominal", "scale": {"type": "ordinal", "domain": ["Observed", "Theoretical"], "range": [9, 3.5]}}}},
        {"data": {"name": "ticks"}, "transform": [{"filter": "datum.site === 'EDC'"}], "mark": {"type": "rule", "color": "black", "strokeWidth": 1.5},
         "encoding": {"x": {"field": "depth", "type": "quantitative"}, "y": {"datum": -0.02, "type": "quantitative"}, "y2": {"datum": -0.046}}},
        {"data": {"values": [{"site": "EDC"}]}, "mark": {"type": "rule", "color": "black", "strokeWidth": 1.5}, "encoding": {"x": {"datum": -0.12, "type": "quantitative"}, "y": {"datum": 0, "type": "quantitative"}, "y2": {"datum": 0.5}}},
        {"data": {"values": [{"site": "EDC"}]}, "mark": {"type": "rule", "color": "black", "strokeWidth": 1.5}, "encoding": {"y": {"datum": -0.02, "type": "quantitative"}, "x": {"datum": 0, "type": "quantitative"}, "x2": {"datum": 3}}},
        {"data": {"values": [{"site": "EDC"}]}, "mark": {"type": "text", "align": "left", "baseline": "middle", "dx": 3, "fontSize": 23, "color": "black"}, "encoding": {"x": {"datum": -0.12, "type": "quantitative"}, "y": {"datum": 0.475, "type": "quantitative"}, "text": {"field": "site"}}}
      ]
    },
    {
      "width": 337, "height": 247,
      "layer": [
        {"data": {"name": "sim"}, "transform": [{"filter": "datum.site === 'SP'"}], "mark": {"type": "line", "strokeWidth": 2.5, "clip": true},
         "encoding": {
           "x": {"field": "depth", "type": "quantitative", "scale": {"domain": [-0.6, 15.6], "nice": false, "zero": false}, "axis": {"values": [0, 5, 10, 15], "format": "d", "title": "Snow depth (m)", "ticks": false, "tickSize": 0, "domain": false, "labelPadding": 15, "titlePadding": 22}},
           "y": {"field": "len", "type": "quantitative", "scale": {"domain": [-0.046, 0.52], "nice": false, "zero": false}, "axis": {"values": [0, 0.1, 0.2, 0.3, 0.4, 0.5], "format": ".1f", "title": "Cycle length (m)", "labelPadding": 11, "titlePadding": 34}},
           "color": {"field": "xi", "type": "nominal", "scale": {"domain": ["0", "0.1", "0.5", "0.9", "1"], "range": ["#DFC703", "#4DBA5E", "#16928B", "#1E5587", "#45175A"]}}}},
        {"data": {"name": "obs"}, "transform": [{"filter": "datum.site === 'SP'"}], "mark": {"type": "area", "color": "#888888", "opacity": 0.55, "clip": true},
         "encoding": {"x": {"field": "depth", "type": "quantitative"}, "y": {"field": "lo", "type": "quantitative"}, "y2": {"field": "hi"}}},
        {"data": {"name": "obs"}, "transform": [{"filter": "datum.site === 'SP'"}], "mark": {"type": "line", "strokeWidth": 3, "clip": true},
         "encoding": {"x": {"field": "depth", "type": "quantitative"}, "y": {"field": "len", "type": "quantitative"},
           "stroke": {"field": "kind", "type": "nominal", "scale": {"domain": ["Observed", "Theoretical"], "range": ["#b2b2b2", "#000000"]}},
           "strokeDash": {"field": "kind", "type": "nominal", "scale": {"domain": ["Observed", "Theoretical"], "range": [[1, 0], [13, 8]]}}}},
        {"data": {"name": "theo"}, "transform": [{"filter": "datum.site === 'SP'"}], "mark": {"type": "line", "clip": true},
         "encoding": {"x": {"field": "depth", "type": "quantitative"}, "y": {"field": "len", "type": "quantitative"},
           "stroke": {"field": "kind", "type": "nominal", "scale": {"domain": ["Observed", "Theoretical"], "range": ["#b2b2b2", "#000000"]}},
           "strokeDash": {"field": "kind", "type": "nominal", "scale": {"domain": ["Observed", "Theoretical"], "range": [[1, 0], [13, 8]]}},
           "strokeWidth": {"field": "kind", "type": "nominal", "scale": {"type": "ordinal", "domain": ["Observed", "Theoretical"], "range": [9, 3.5]}}}},
        {"data": {"name": "ticks"}, "transform": [{"filter": "datum.site === 'SP'"}], "mark": {"type": "rule", "color": "black", "strokeWidth": 1.5},
         "encoding": {"x": {"field": "depth", "type": "quantitative"}, "y": {"datum": -0.02, "type": "quantitative"}, "y2": {"datum": -0.046}}},
        {"data": {"values": [{"site": "SP"}]}, "mark": {"type": "rule", "color": "black", "strokeWidth": 1.5}, "encoding": {"x": {"datum": -0.6, "type": "quantitative"}, "y": {"datum": 0, "type": "quantitative"}, "y2": {"datum": 0.5}}},
        {"data": {"values": [{"site": "SP"}]}, "mark": {"type": "rule", "color": "black", "strokeWidth": 1.5}, "encoding": {"y": {"datum": -0.02, "type": "quantitative"}, "x": {"datum": 0, "type": "quantitative"}, "x2": {"datum": 15}}},
        {"data": {"values": [{"site": "SP"}]}, "mark": {"type": "text", "align": "left", "baseline": "middle", "dx": 3, "fontSize": 23, "color": "black"}, "encoding": {"x": {"datum": -0.6, "type": "quantitative"}, "y": {"datum": 0.475, "type": "quantitative"}, "text": {"field": "site"}}}
      ]
    }
  ]
}
